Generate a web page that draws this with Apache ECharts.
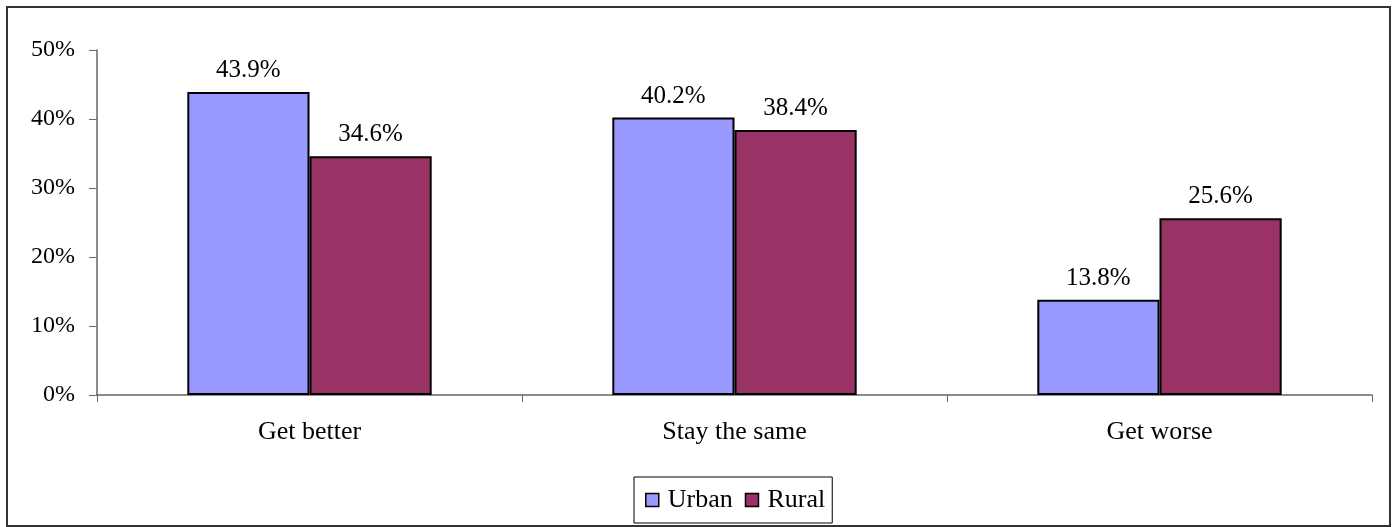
<!DOCTYPE html>
<html>
<head>
<meta charset="utf-8">
<script src="https://cdn.jsdelivr.net/npm/echarts@6/dist/echarts.min.js"></script>
<style>
  html, body { margin: 0; padding: 0; background: #fff; }
  #chart { width: 1394px; height: 527px; }
</style>
</head>
<body>
<div id="chart"></div>
<script>
// Expected change in situation, by area type (percent of respondents)
const categories = ['Get better', 'Stay the same', 'Get worse'];
const urban = [43.9, 40.2, 13.8];
const rural = [34.6, 38.4, 25.6];
const yTicks = [0, 10, 20, 30, 40, 50];

const FONT = '"Liberation Serif", "Times New Roman", serif';
const chart = echarts.init(document.getElementById('chart'), null, { renderer: 'canvas' });

const labelCfg = {
  show: true,
  position: 'top',
  distance: 9,
  fontFamily: FONT,
  fontSize: 25,
  color: '#000',
  formatter: p => p.value.toFixed(1) + '%'
};

chart.setOption({
  animation: false,
  backgroundColor: '#fff',
  textStyle: { fontFamily: FONT },
  graphic: [{
    type: 'rect',
    shape: { x: 7, y: 7, width: 1383, height: 519 },
    style: { fill: 'none', stroke: '#333', lineWidth: 2 },
    silent: true
  }],
  grid: { left: 97, right: 22, top: 50, bottom: 132, containLabel: false },
  legend: {
    bottom: 4,
    left: 634,
    data: ['Urban', 'Rural'],
    icon: 'rect',
    itemWidth: 13,
    itemHeight: 13,
    itemGap: 12,
    itemStyle: { borderColor: '#000', borderWidth: 1.5 },
    borderColor: '#000',
    borderWidth: 1,
    padding: [10, 7, 10, 11],
    textStyle: { fontFamily: FONT, fontSize: 26, color: '#000', padding: [0, 0, 0, 4] }
  },
  xAxis: {
    type: 'category',
    data: categories,
    axisLine: { lineStyle: { color: '#666', width: 1.5 } },
    axisTick: { show: true, length: 7, lineStyle: { color: '#666' } },
    axisLabel: { fontFamily: FONT, fontSize: 26, color: '#000', margin: 24 },
    splitLine: { show: false }
  },
  yAxis: {
    type: 'value',
    min: yTicks[0],
    max: yTicks[yTicks.length - 1],
    interval: 10,
    axisLine: { show: true, lineStyle: { color: '#666', width: 1.5 } },
    axisTick: { show: true, length: 8, lineStyle: { color: '#666' } },
    axisLabel: { fontFamily: FONT, fontSize: 24, color: '#000', margin: 22, formatter: '{value}%' },
    splitLine: { show: false }
  },
  series: [
    {
      name: 'Urban',
      type: 'bar',
      data: urban,
      barGap: '0%',
      barCategoryGap: '42.5%',
      itemStyle: { color: '#9999FF', borderColor: '#000', borderWidth: 2 },
      label: labelCfg
    },
    {
      name: 'Rural',
      type: 'bar',
      data: rural,
      barGap: '0%',
      barCategoryGap: '42.5%',
      itemStyle: { color: '#993366', borderColor: '#000', borderWidth: 2 },
      label: labelCfg
    }
  ]
});
</script>
</body>
</html>
